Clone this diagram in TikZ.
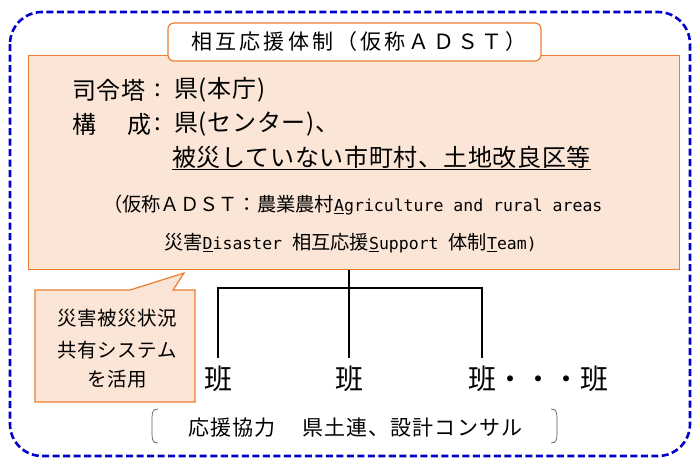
\documentclass[tikz,border=0pt]{standalone}
\usepackage{fontspec}
\setmainfont{Noto Sans CJK JP}
\newfontfamily\mono{DejaVu Sans Mono}
\definecolor{peach}{HTML}{FBE5D6}
\definecolor{orng}{HTML}{ED7D31}
\definecolor{dblue}{HTML}{0000CC}
\begin{document}
\begin{tikzpicture}[x=1pt,y=-1pt,
  every node/.style={inner sep=0pt, text=black},
  bigtxt/.style={font=\fontsize{24}{28}\selectfont\addfontfeature{LetterSpace=3}},
  smalltxt/.style={font=\fontsize{19.25}{22}\selectfont},
  titletxt/.style={font=\fontsize{21}{24}\selectfont\addfontfeature{LetterSpace=15}},
  callouttxt/.style={font=\fontsize{19.5}{23}\selectfont\addfontfeature{LetterSpace=3}},
  bantxt/.style={font=\fontsize{28}{32}\selectfont},
  brtxt/.style={font=\fontsize{21}{24}\selectfont\addfontfeature{LetterSpace=5}},
  orgline/.style={draw=black, line width=1.4pt},
  orangebox/.style={draw=orng, line width=1.2pt, fill=peach},
]
\useasboundingbox (0,0) rectangle (699,461);
% outer dashed frame
\draw[dblue, line width=2.6pt, dash pattern=on 7pt off 3.5pt, rounded corners=32pt]
  (10,12) rectangle (690,456);
% main peach box
\node[orangebox, anchor=north west, minimum width=651pt, minimum height=214pt] (peach) at (28,55) {};
% title box
\node[draw=orng, line width=1.2pt, fill=white, rounded corners=6pt, minimum width=373pt, minimum height=38pt] (titlebox) at (354.5,42) {};
\node[titletxt] (title) at (359,42) {相互応援体制（仮称ＡＤＳＴ）};
% main lines
\node[bigtxt, anchor=west] (l1a) at (72,90) {司令塔};
\node[bigtxt] (l1c) at (158,90) {:};
\node[bigtxt, anchor=west] (l1b) at (174,90) {県(本庁)};
\node[bigtxt, anchor=west] (l2a) at (72,124) {構};
\node[bigtxt, anchor=west] (l2b) at (127,124) {成};
\node[bigtxt] (l2c) at (158,124) {:};
\node[bigtxt, anchor=west] (l2d) at (174,124) {県(センター)、};
\node[bigtxt, anchor=west] (l3) at (172,158) {\underline{被災していない市町村、土地改良区等}};
\node[smalltxt, anchor=west] (s1) at (103,205) {（仮称ＡＤＳＴ：農業農村{\mono\fontsize{16.5}{22}\selectfont\underline{A}griculture and rural areas}};
\node[smalltxt, anchor=west] (s2) at (164,243) {災害{\mono\fontsize{16.5}{22}\selectfont\underline{D}isaster }相互応援{\mono\fontsize{16.5}{22}\selectfont\underline{S}upport }体制{\mono\fontsize{16.5}{22}\selectfont\underline{T}eam)}};
% callout
\draw[orangebox] (35,290) -- (130,290) -- (184,273) -- (173,290) -- (195,290) -- (195,402) -- (35,402) -- cycle;
\node[callouttxt] (c1) at (117,318) {災害被災状況};
\node[callouttxt] (c2) at (117,350) {共有システム};
\node[callouttxt] (c3) at (117,379) {を活用};
% han labels
\node[bantxt, inner ysep=8pt] (ban1) at (218,379) {班};
\node[bantxt, inner ysep=8pt] (ban2) at (349,379) {班};
\node[bantxt, inner ysep=8pt] (ban3) at (482,379) {班};
\node[bantxt, anchor=west] (ban4) at (ban3.east) {・・・班};
\coordinate (hub) at (349,288);
% connectors
\draw[orgline] (ban2.north |- peach.south) -- (ban2.north);
\draw[orgline] (ban1.north) -- (ban1.north |- hub) -- (ban3.north |- hub) -- (ban3.north);
% bracket row
\node[brtxt, anchor=west] (br) at (188,428) {応援協力\hspace{1.3em}県土連、設計コンサル};
\draw[gray!70!black, line width=0.7pt] (158,409) .. controls (153,409) and (152,412) .. (152,418) -- (152,434) .. controls (152,440) and (153,443) .. (158,443);
\draw[gray!70!black, line width=0.7pt] (551,409) .. controls (556,409) and (557,412) .. (557,418) -- (557,434) .. controls (557,440) and (556,443) .. (551,443);
\end{tikzpicture}
\end{document}
